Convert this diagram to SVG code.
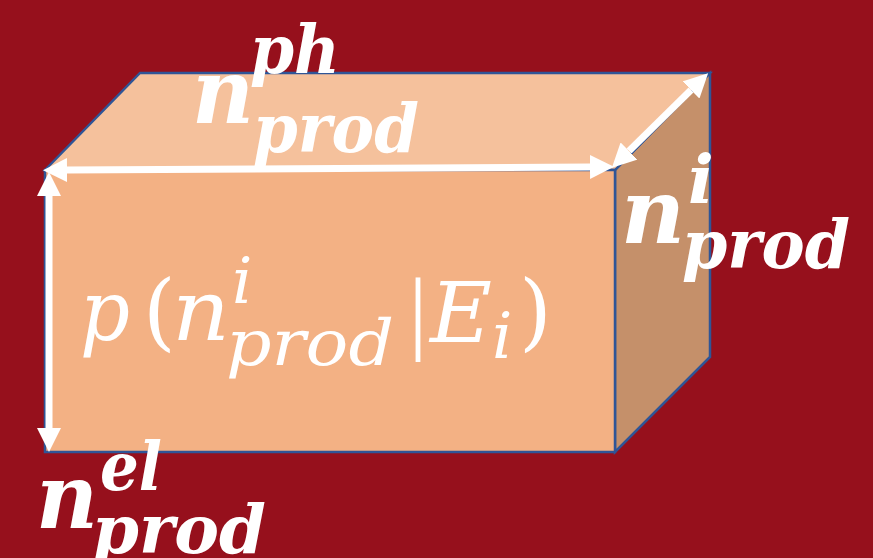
<svg xmlns="http://www.w3.org/2000/svg" width="873" height="558" viewBox="0 0 873 558">
<defs>
<style>
.face{stroke:#2F5597;stroke-width:2.5;stroke-linejoin:miter}
.lbl{font-family:"DejaVu Serif","Liberation Serif",serif;font-weight:bold;font-style:italic;fill:#FFFFFF}
.big{font-size:90px}
.scr{font-size:68px}
.fm{font-family:"DejaVu Serif","Liberation Serif",serif;font-style:italic;fill:#FFFFFF}
.fb{font-size:84px}
.fs{font-size:64px}
.up{font-style:normal}
.arr{stroke:#FFFFFF;stroke-width:7;fill:none}
</style>
<marker id="ah" viewBox="0 -12 24 24" refX="0" refY="0" markerWidth="24" markerHeight="24" markerUnits="userSpaceOnUse" orient="auto-start-reverse">
<path d="M0,-12 L24,0 L0,12 Z" fill="#FFFFFF"/>
</marker>
</defs>
<rect x="0" y="0" width="873" height="558" fill="#96101C"/>
<g id="box">
<polygon class="face" points="615,170 710,73 710,357 615,452" fill="#C5906A"/>
<polygon class="face" points="45,170 140,73 710,73 615,170" fill="#F5C19C"/>
<polygon class="face" points="45,170 615,170 615,452 45,452" fill="#F3B184"/>
</g>
<g id="formula" class="fm">
<text class="fb" x="80" y="340" textLength="50" lengthAdjust="spacingAndGlyphs">p</text>
<text class="fb up" x="143" y="340">(</text>
<text class="fb" x="172" y="340" textLength="58" lengthAdjust="spacingAndGlyphs">n</text>
<text class="fs" x="232" y="303">i</text>
<text class="fs" x="226" y="365" textLength="168" lengthAdjust="spacingAndGlyphs">prod</text>
<text class="fb up" x="408" y="342" textLength="20" lengthAdjust="spacingAndGlyphs">|</text>
<text class="fb" x="430" y="342" textLength="62" lengthAdjust="spacingAndGlyphs">E</text>
<text class="fs" x="492" y="358">i</text>
<text class="fb up" x="519" y="340">)</text>
</g>
<g id="label-ph" class="lbl">
<text class="big" x="192" y="123" textLength="62" lengthAdjust="spacingAndGlyphs">n</text>
<text class="scr" x="250" y="73" textLength="90" lengthAdjust="spacingAndGlyphs">ph</text>
<text class="scr" x="253" y="152" textLength="166" lengthAdjust="spacingAndGlyphs">prod</text>
</g>
<g id="label-i" class="lbl">
<text class="big" x="621" y="243" textLength="64" lengthAdjust="spacingAndGlyphs">n</text>
<text class="scr" x="688" y="203">i</text>
<text class="scr" x="682" y="268" textLength="168" lengthAdjust="spacingAndGlyphs">prod</text>
</g>
<g id="label-el" class="lbl">
<text class="big" x="36" y="528" textLength="62" lengthAdjust="spacingAndGlyphs">n</text>
<text class="scr" x="100" y="490" textLength="62" lengthAdjust="spacingAndGlyphs">el</text>
<text class="scr" x="92" y="553" textLength="174" lengthAdjust="spacingAndGlyphs">prod</text>
</g>
<g id="connectors">
<line class="arr" x1="67" y1="170" x2="590" y2="167" marker-start="url(#ah)" marker-end="url(#ah)"/>
<line class="arr" x1="49" y1="196" x2="49" y2="428" marker-start="url(#ah)" marker-end="url(#ah)"/>
<line class="arr" x1="629" y1="151" x2="691" y2="90" marker-start="url(#ah)" marker-end="url(#ah)"/>
</g>
</svg>
